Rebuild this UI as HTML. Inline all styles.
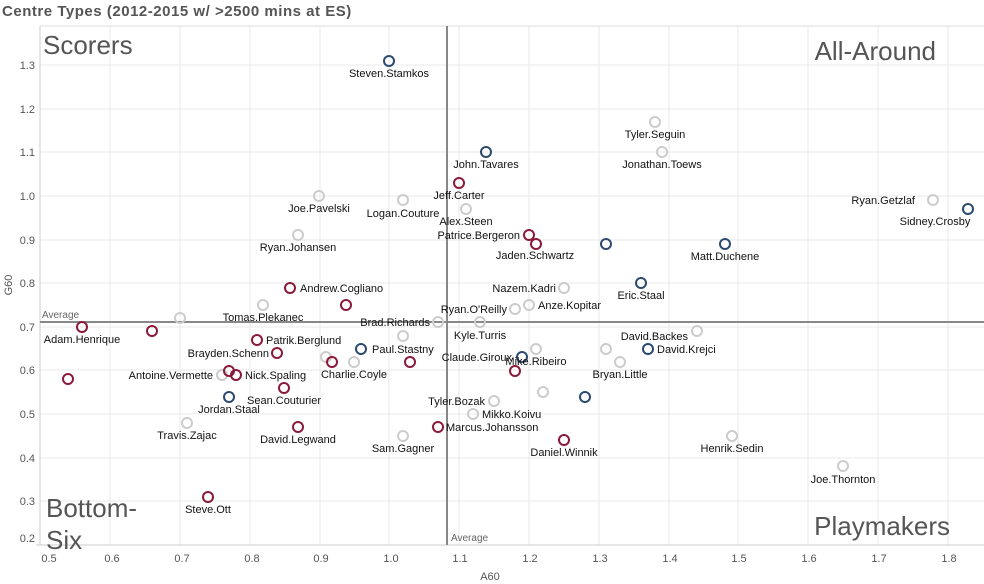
<!DOCTYPE html><html><head><style>body{margin:0;background:#fff}svg{display:block}text{font-family:"Liberation Sans",Arial,sans-serif}</style></head><body>
<svg width="984" height="584" xmlns="http://www.w3.org/2000/svg">
<text x="2" y="16" font-size="15" font-weight="bold" fill="#555" letter-spacing="0.7" textLength="350" lengthAdjust="spacing">Centre Types (2012-2015 w/ &gt;2500 mins at ES)</text>
<g stroke="#e8e8e8" stroke-width="1">
<line x1="110" y1="26" x2="110" y2="545"/><line x1="180" y1="26" x2="180" y2="545"/><line x1="250" y1="26" x2="250" y2="545"/><line x1="320" y1="26" x2="320" y2="545"/><line x1="389" y1="26" x2="389" y2="545"/><line x1="459" y1="26" x2="459" y2="545"/><line x1="529" y1="26" x2="529" y2="545"/><line x1="599" y1="26" x2="599" y2="545"/><line x1="669" y1="26" x2="669" y2="545"/><line x1="738" y1="26" x2="738" y2="545"/><line x1="808" y1="26" x2="808" y2="545"/><line x1="878" y1="26" x2="878" y2="545"/><line x1="948" y1="26" x2="948" y2="545"/>
<line x1="40" y1="65" x2="984" y2="65"/><line x1="40" y1="109" x2="984" y2="109"/><line x1="40" y1="152" x2="984" y2="152"/><line x1="40" y1="196" x2="984" y2="196"/><line x1="40" y1="240" x2="984" y2="240"/><line x1="40" y1="283" x2="984" y2="283"/><line x1="40" y1="327" x2="984" y2="327"/><line x1="40" y1="370" x2="984" y2="370"/><line x1="40" y1="414" x2="984" y2="414"/><line x1="40" y1="458" x2="984" y2="458"/><line x1="40" y1="501" x2="984" y2="501"/>
</g>
<line x1="40" y1="26" x2="40" y2="545" stroke="#ccc"/><line x1="40" y1="26" x2="984" y2="26" stroke="#ddd"/><line x1="36" y1="545" x2="984" y2="545" stroke="#ccc"/>
<line x1="447" y1="26" x2="447" y2="545" stroke="#888" stroke-width="2"/>
<line x1="40" y1="322" x2="984" y2="322" stroke="#888" stroke-width="2"/>
<g font-size="11" fill="#555" text-anchor="end">
<text x="35" y="69">1.3</text><text x="35" y="113">1.2</text><text x="35" y="156">1.1</text><text x="35" y="200">1.0</text><text x="35" y="244">0.9</text><text x="35" y="287">0.8</text><text x="35" y="331">0.7</text><text x="35" y="374">0.6</text><text x="35" y="418">0.5</text><text x="35" y="462">0.4</text><text x="35" y="505">0.3</text><text x="35" y="542">0.2</text></g>
<g font-size="11" fill="#555" text-anchor="middle">
<text x="49" y="562">0.5</text><text x="112" y="562">0.6</text><text x="182" y="562">0.7</text><text x="252" y="562">0.8</text><text x="321" y="562">0.9</text><text x="391" y="562">1.0</text><text x="460" y="562">1.1</text><text x="530" y="562">1.2</text><text x="600" y="562">1.3</text><text x="670" y="562">1.4</text><text x="739" y="562">1.5</text><text x="809" y="562">1.6</text><text x="879" y="562">1.7</text><text x="949" y="562">1.8</text>
<text x="490" y="580">A60</text></g>
<text transform="translate(12,285) rotate(-90)" font-size="11" fill="#555" text-anchor="middle">G60</text>
<text x="42" y="318" font-size="10" fill="#666">Average</text><text x="451" y="541" font-size="10" fill="#666">Average</text>
<g font-size="26" fill="#555"><text x="43" y="54">Scorers</text><text x="936" y="60" text-anchor="end">All-Around</text><text x="46" y="517">Bottom-</text><text x="46" y="549">Six</text><text x="950" y="535" text-anchor="end">Playmakers</text></g>
<g fill="none" stroke-width="2">
<g stroke="#ccc">
<circle cx="655" cy="122" r="5"/><circle cx="662" cy="152" r="5"/><circle cx="319" cy="196" r="5"/><circle cx="403" cy="200" r="5"/><circle cx="466" cy="209" r="5"/><circle cx="298" cy="235" r="5"/><circle cx="933" cy="200" r="5"/><circle cx="564" cy="288" r="5"/><circle cx="529" cy="305" r="5"/><circle cx="515" cy="309" r="5"/><circle cx="263" cy="305" r="5"/><circle cx="180" cy="318" r="5"/><circle cx="438" cy="322" r="5"/><circle cx="480" cy="322" r="5"/><circle cx="403" cy="336" r="5"/><circle cx="697" cy="331" r="5"/><circle cx="536" cy="349" r="5"/><circle cx="606" cy="349" r="5"/><circle cx="620" cy="362" r="5"/><circle cx="326" cy="357" r="5"/><circle cx="354" cy="362" r="5"/><circle cx="222" cy="375" r="5"/><circle cx="543" cy="392" r="5"/><circle cx="494" cy="401" r="5"/><circle cx="473" cy="414" r="5"/><circle cx="187" cy="423" r="5"/><circle cx="403" cy="436" r="5"/><circle cx="732" cy="436" r="5"/><circle cx="843" cy="466" r="5"/></g>
<g stroke="#8b1a3a">
<circle cx="459" cy="183" r="5"/><circle cx="529" cy="235" r="5"/><circle cx="536" cy="244" r="5"/><circle cx="290" cy="288" r="5"/><circle cx="346" cy="305" r="5"/><circle cx="82" cy="327" r="5"/><circle cx="152" cy="331" r="5"/><circle cx="257" cy="340" r="5"/><circle cx="277" cy="353" r="5"/><circle cx="332" cy="362" r="5"/><circle cx="410" cy="362" r="5"/><circle cx="229" cy="371" r="5"/><circle cx="236" cy="375" r="5"/><circle cx="68" cy="379" r="5"/><circle cx="515" cy="371" r="5"/><circle cx="284" cy="388" r="5"/><circle cx="298" cy="427" r="5"/><circle cx="438" cy="427" r="5"/><circle cx="564" cy="440" r="5"/><circle cx="208" cy="497" r="5"/></g>
<g stroke="#2c4a6e">
<circle cx="389" cy="61" r="5"/><circle cx="486" cy="152" r="5"/><circle cx="968" cy="209" r="5"/><circle cx="606" cy="244" r="5"/><circle cx="725" cy="244" r="5"/><circle cx="641" cy="283" r="5"/><circle cx="361" cy="349" r="5"/><circle cx="522" cy="357" r="5"/><circle cx="648" cy="349" r="5"/><circle cx="229" cy="397" r="5"/><circle cx="585" cy="397" r="5"/></g>
</g>
<g font-size="11" fill="#111" text-anchor="middle">
<text x="389" y="77">Steven.Stamkos</text><text x="486" y="168">John.Tavares</text><text x="655" y="138">Tyler.Seguin</text><text x="662" y="168">Jonathan.Toews</text><text x="459" y="199">Jeff.Carter</text><text x="319" y="212">Joe.Pavelski</text><text x="466" y="225">Alex.Steen</text><text x="298" y="251">Ryan.Johansen</text><text x="535" y="259">Jaden.Schwartz</text><text x="725" y="260">Matt.Duchene</text><text x="935" y="225">Sidney.Crosby</text><text x="641" y="299">Eric.Staal</text><text x="263" y="321">Tomas.Plekanec</text><text x="480" y="339">Kyle.Turris</text><text x="82" y="343">Adam.Henrique</text><text x="620" y="378">Bryan.Little</text><text x="354" y="378">Charlie.Coyle</text><text x="284" y="404">Sean.Couturier</text><text x="229" y="413">Jordan.Staal</text><text x="187" y="439">Travis.Zajac</text><text x="298" y="443">David.Legwand</text><text x="403" y="452">Sam.Gagner</text><text x="564" y="456">Daniel.Winnik</text><text x="732" y="452">Henrik.Sedin</text><text x="843" y="483">Joe.Thornton</text><text x="208" y="513">Steve.Ott</text><text x="536" y="365">Mike.Ribeiro</text><text x="403" y="217">Logan.Couture</text>
</g>
<g font-size="11" fill="#111" text-anchor="end">
<text x="915" y="204">Ryan.Getzlaf</text><text x="520" y="239">Patrice.Bergeron</text><text x="556" y="292">Nazem.Kadri</text><text x="507" y="313">Ryan.O'Reilly</text><text x="430" y="326">Brad.Richards</text><text x="688" y="340">David.Backes</text><text x="512" y="361">Claude.Giroux</text><text x="269" y="357">Brayden.Schenn</text><text x="213" y="379">Antoine.Vermette</text><text x="485" y="405">Tyler.Bozak</text></g>
<g font-size="11" fill="#111">
<text x="300" y="292">Andrew.Cogliano</text><text x="538" y="309">Anze.Kopitar</text><text x="266" y="344">Patrik.Berglund</text><text x="372" y="353">Paul.Stastny</text><text x="657" y="353">David.Krejci</text><text x="245" y="379">Nick.Spaling</text><text x="482" y="418">Mikko.Koivu</text><text x="446" y="431">Marcus.Johansson</text></g>
</svg></body></html>
